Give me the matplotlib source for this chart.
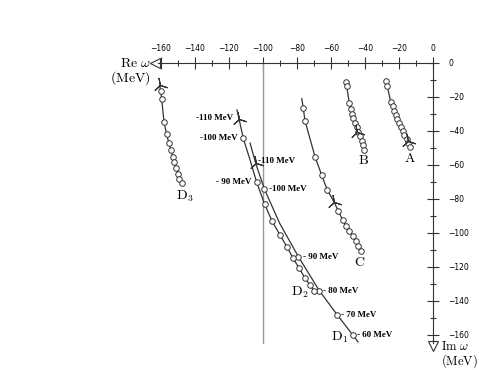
import numpy as np
import matplotlib
matplotlib.use('Agg')
import matplotlib.pyplot as plt

plt.rcParams['mathtext.fontset'] = 'cm'

# pole trajectories (Re w, Im w) in MeV
a_re = [-27.6, -26.9, -24.9, -23.7, -22.8, -22.0, -21.0, -19.8, -18.8, -17.8, -16.9, -15.5, -14.5, -13.5]
a_im = [-10.4, -13.5, -22.7, -25.3, -28.1, -30.6, -33.1, -35.5, -37.8, -40.0, -42.4, -44.7, -46.9, -49.2]
a_star = (-14.5, -45.7)

b_re = [-51.2, -50.8, -49.2, -48.2, -47.5, -46.9, -45.9, -44.9, -44.0, -42.9, -42.0, -41.0, -40.4]
b_im = [-11.0, -13.5, -23.7, -27.3, -30.0, -32.5, -35.1, -37.8, -40.4, -42.9, -45.7, -48.2, -51.2]
b_star = (-44.9, -40.4)

c_re = [-76.3, -75.3, -69.4, -65.5, -62.2, -55.7, -53.1, -51.2, -49.2, -47.2, -45.3, -43.9, -42.6]
c_im = [-26.6, -34.0, -55.1, -65.9, -74.7, -87.1, -92.4, -95.7, -98.8, -101.6, -104.7, -107.5, -110.6]
c_line_re = [-77.2, -76.3, -75.3, -69.4, -65.5, -62.2, -58.1, -55.7, -53.1, -51.2, -49.2, -47.2, -45.3, -43.9, -42.6]
c_line_im = [-20.9, -26.6, -34.0, -55.1, -65.9, -74.7, -81.9, -87.1, -92.4, -95.7, -98.8, -101.6, -104.7, -107.5, -110.6]
c_star = (-58.1, -81.9)

d3_re = [-160.2, -159.6, -158.2, -156.7, -155.3, -154.1, -153.1, -152.2, -151.0, -150.0, -149.2, -147.8]
d3_im = [-16.5, -21.2, -34.9, -41.9, -47.3, -51.4, -55.1, -58.4, -61.9, -65.1, -68.1, -70.8]
d3_star = (-160.8, -13.0)

d1_re = [-99.2, -79.2, -66.9, -56.3, -47.2]
d1_im = [-74.1, -113.9, -133.9, -148.2, -160.0]
d1_labels = ['-100 MeV', '- 90 MeV', '- 80 MeV', '- 70 MeV', '- 60 MeV']
d1_line_re = [-107.6, -104.3, -99.2, -90.3, -79.2, -66.9, -56.3, -47.2, -44.1]
d1_line_im = [-47.1, -59.0, -74.1, -94.1, -113.9, -133.9, -148.2, -160.0, -164.1]
d1_star = (-104.3, -59.0)

d2_re = [-111.6, -103.7, -99.1, -94.7, -90.0, -85.9, -82.4, -78.8, -75.3, -72.4, -70.0]
d2_im = [-44.3, -70.2, -82.9, -92.9, -101.2, -108.2, -114.7, -120.6, -126.5, -130.6, -134.1]
d2_labels = ['-100 MeV', '- 90 MeV']
d2_line_re = [-115.3, -114.1, -111.6, -107.6] + d2_re[1:]
d2_line_im = [-27.6, -32.9, -44.3, -57.1] + d2_im[1:]
d2_star = (-114.1, -32.9)

curve_names = ['A', 'B', 'C', 'D_1', 'D_2', 'D_3']
name_re = [-13.5, -40.6, -42.9, -54.7, -78.2, -145.9]
name_im = [-55.9, -57.1, -117.1, -161.2, -134.7, -78.2]

x_ticks = np.arange(-160, 1, 20)
y_ticks = np.arange(-160, 1, 20)

ink = '#333333'
fig = plt.figure(figsize=(4.79, 3.70), dpi=100)
ax = fig.add_axes([0, 0, 1, 1])
ax.set_xlim(-254.7, 27.06)
ax.set_ylim(-180.6, 37.06)

# axes drawn as crossing spines at Re=0 / Im=0
for s in ['left', 'bottom']:
    ax.spines[s].set_visible(False)
ax.spines['top'].set_position(('data', 0))
ax.spines['right'].set_position(('data', 0))
ax.spines['top'].set_bounds(-162, 0)
ax.spines['right'].set_bounds(-165, 0)
ax.spines['top'].set_color(ink)
ax.spines['right'].set_color(ink)
ax.xaxis.set_ticks_position('top')
ax.yaxis.set_ticks_position('right')
ax.set_xticks(x_ticks)
ax.set_yticks(y_ticks)
ax.set_xticks(np.arange(-150, 0, 20), minor=True)
ax.set_yticks(np.arange(-150, 0, 20), minor=True)
ax.tick_params(which='major', direction='inout', length=8, width=0.8, color=ink, labelsize=5.5)
ax.tick_params(which='minor', direction='inout', length=4, width=0.8, color=ink)
ax.tick_params(axis='x', pad=3)
ax.tick_params(axis='y', pad=7)

# arrow heads at axis ends
ax.plot(-163.5, 0, marker='<', ms=7, mfc='white', mec=ink, mew=0.8, clip_on=False)
ax.plot(0, -166.5, marker='v', ms=7, mfc='white', mec=ink, mew=0.8, clip_on=False)

ax.text(-166, 0, r'$\mathrm{Re}\ \omega$', fontsize=10, ha='right', va='center')
ax.text(-166, -9, r'$(\mathrm{MeV})$', fontsize=10, ha='right', va='center')
ax.text(4.5, -166.8, r'$\mathrm{Im}\ \omega$', fontsize=9, ha='left', va='center')
ax.text(4.5, -175.6, r'$(\mathrm{MeV})$', fontsize=9, ha='left', va='center')

# threshold line
ax.plot([-100, -100], [0, -164.5], color='#999999', lw=1)

circ = dict(marker='o', ms=4, mfc='white', mec=ink, mew=0.7, ls='none', zorder=3)
star = dict(marker=(3, 2, 12), ms=11, color=ink, mew=0.8, ls='none', zorder=4)
line = dict(color=ink, lw=0.9)

ax.plot(a_re, a_im, **line)
ax.plot(a_re, a_im, **circ)
ax.plot(*a_star, **star)

ax.plot(b_re, b_im, **line)
ax.plot(b_re, b_im, **circ)
ax.plot(*b_star, **star)

ax.plot(c_line_re, c_line_im, **line)
ax.plot(c_re, c_im, **circ)
ax.plot(*c_star, **star)

ax.plot([d3_star[0]] + d3_re, [d3_star[1]] + d3_im, **line)
ax.plot(d3_re, d3_im, **circ)
ax.plot(*d3_star, **star)

ax.plot(d1_line_re, d1_line_im, **line)
ax.plot(d1_re, d1_im, **circ)
ax.plot(*d1_star, **star)

ax.plot(d2_line_re, d2_line_im, **line)
ax.plot(d2_re, d2_im, **circ)
ax.plot(*d2_star, **star)

mev = dict(fontsize=6.5, fontweight='bold', family='Liberation Serif', va='center',
           textcoords='offset points')
ax.annotate('-110 MeV', d2_star, xytext=(-4, 1), ha='right', **mev)
for lab, x, y in zip(d2_labels, d2_re, d2_im):
    ax.annotate(lab, (x, y), xytext=(-4, 0), ha='right', **mev)
ax.annotate('-110 MeV', d1_star, xytext=(2, 2), ha='left', **mev)
for lab, x, y in zip(d1_labels, d1_re, d1_im):
    ax.annotate(lab, (x, y), xytext=(3, 0), ha='left', **mev)

for name, x, y in zip(curve_names, name_re, name_im):
    ax.text(x, y, r'$\mathrm{' + name + '}$', fontsize=10, ha='center', va='center')

ax.set_facecolor('white')
fig.savefig('out.png', dpi=100, facecolor='white')
